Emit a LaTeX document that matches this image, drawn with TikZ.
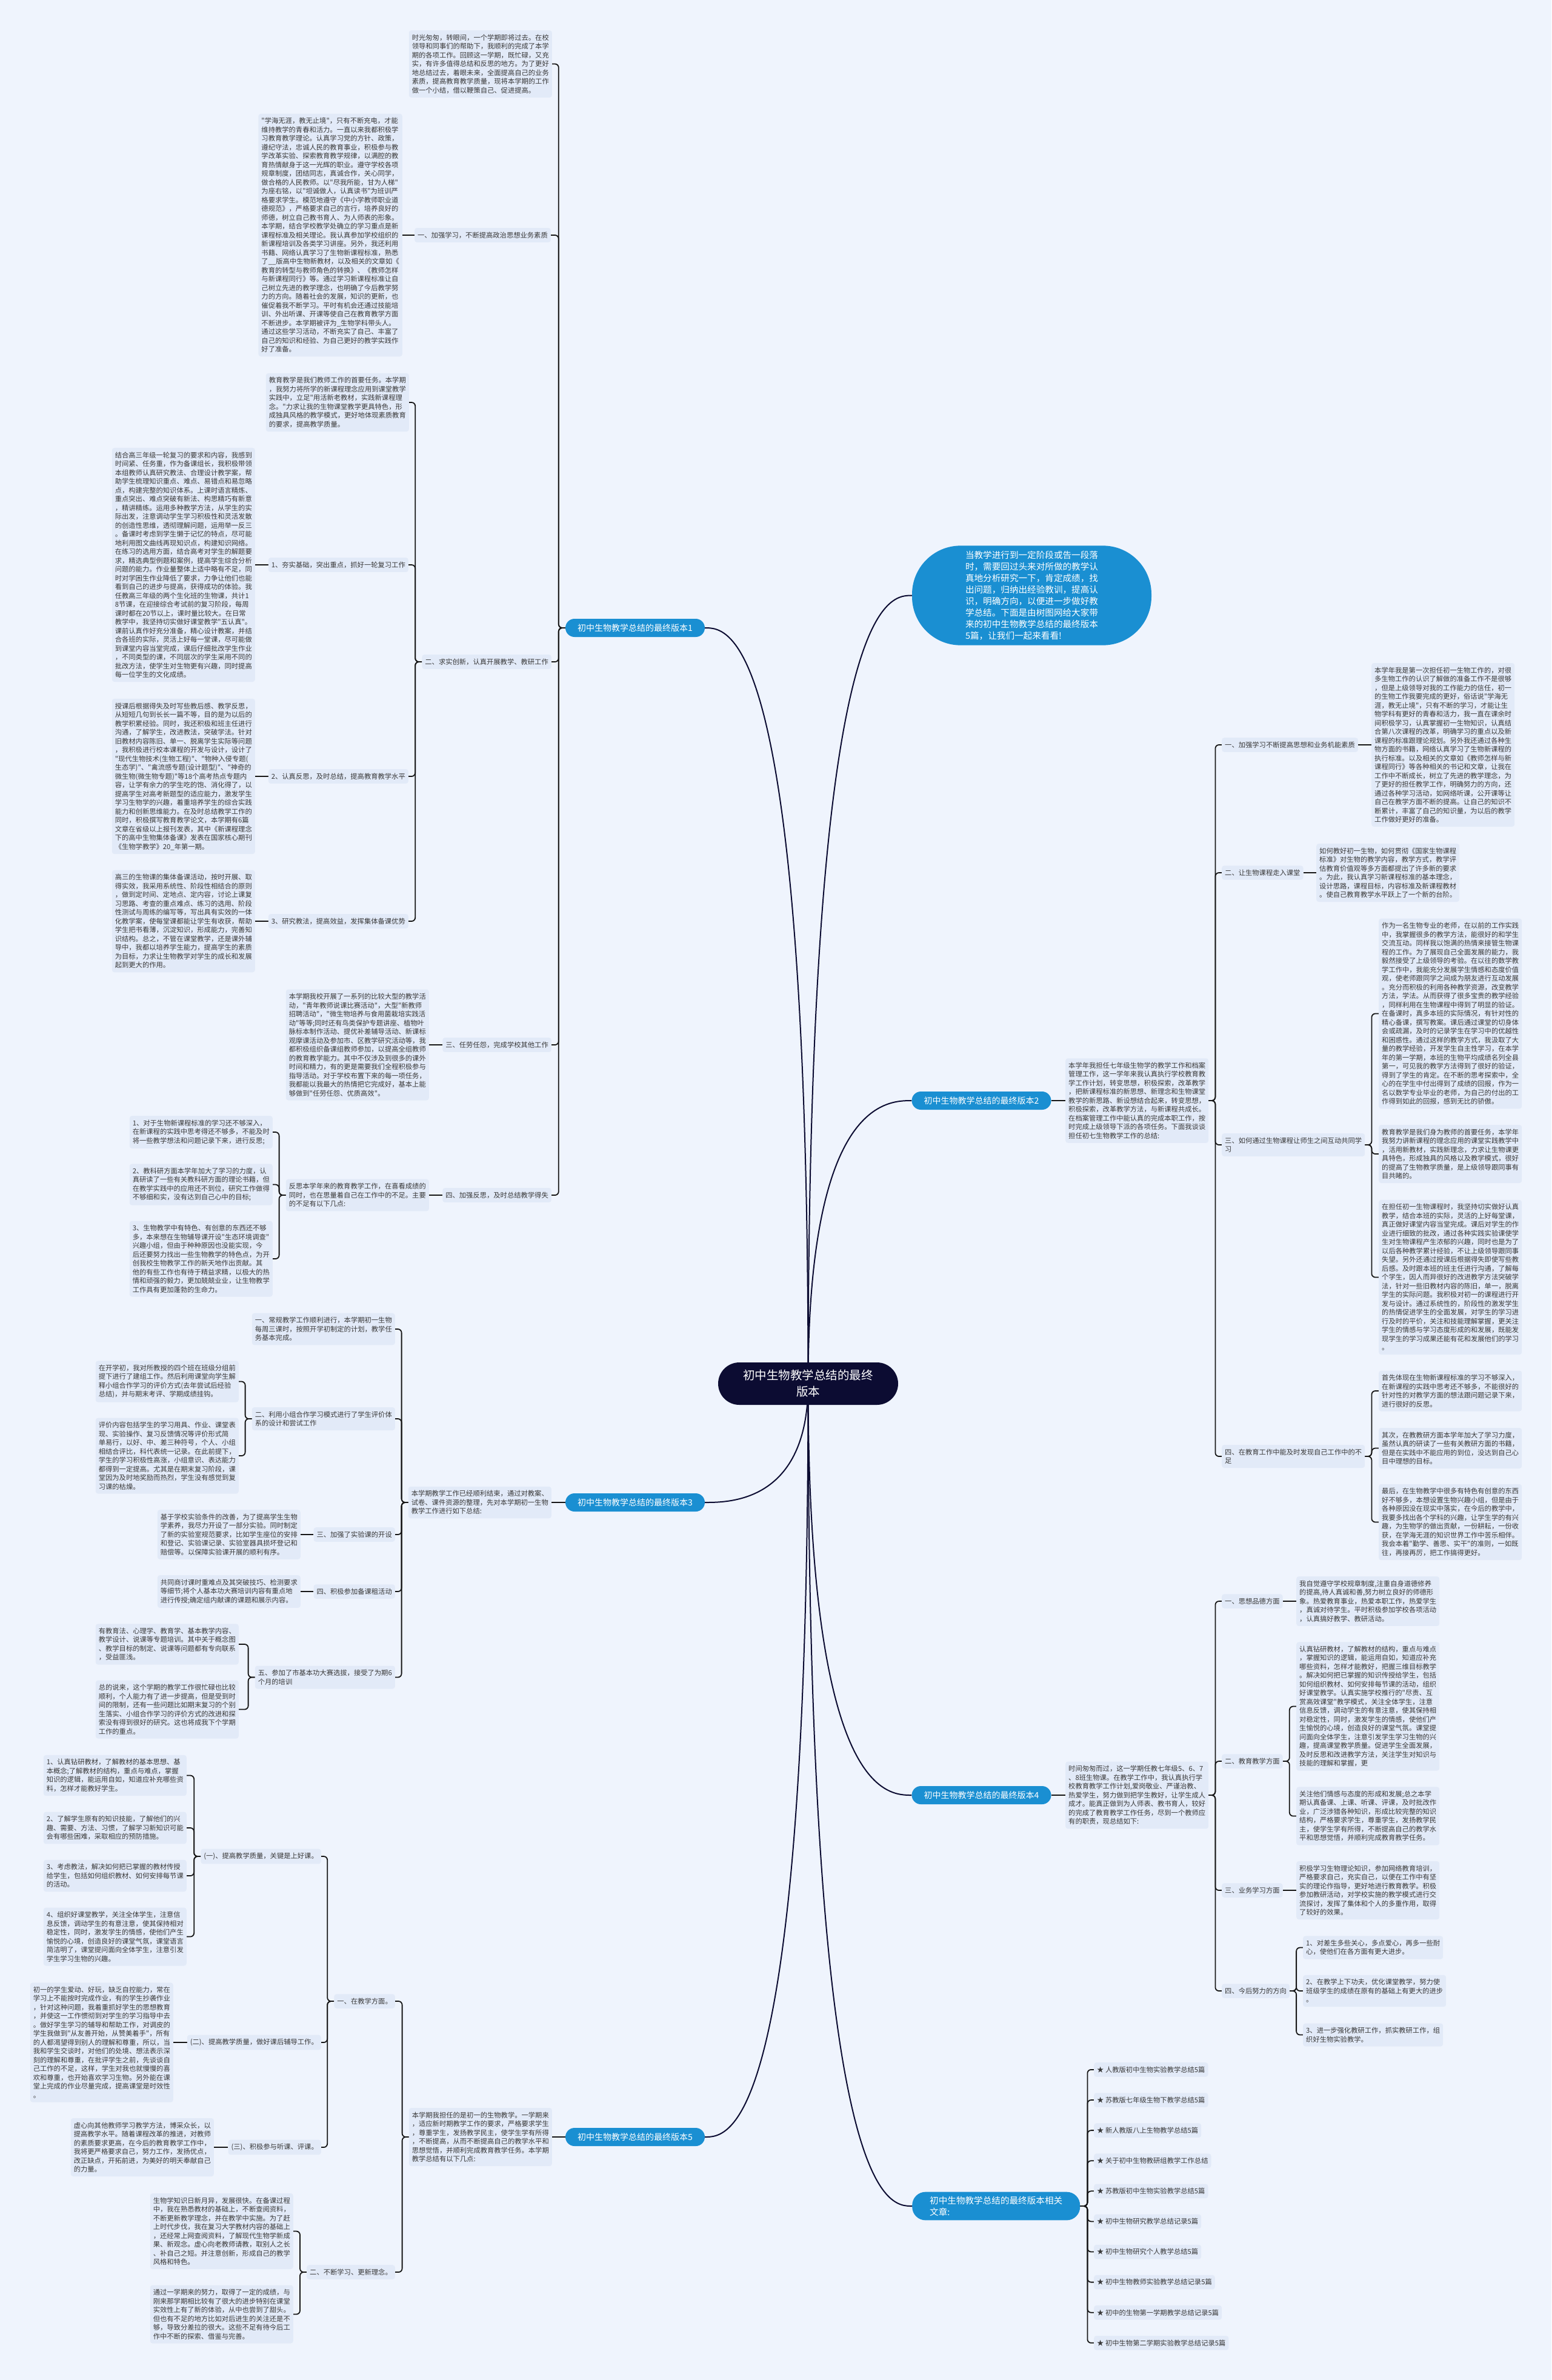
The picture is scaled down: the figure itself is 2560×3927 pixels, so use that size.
\documentclass[tikz,border=0pt]{standalone}
\usepackage{fontspec}
\usepackage{xcolor}
\usetikzlibrary{calc,backgrounds}
\newfontfamily\cjk{Noto Sans CJK SC}
\definecolor{pagebg}{HTML}{EFF4FD}
\definecolor{cardbg}{HTML}{E2EAF8}
\definecolor{cardtxt}{HTML}{383838}
\definecolor{rootbg}{HTML}{0C0C32}
\definecolor{topicbg}{HTML}{1A8FD2}
\definecolor{wirecol}{HTML}{161616}
\newcommand\cardfont{\cjk\fontsize{11.3pt}{14.5pt}\selectfont}
\newcommand\topicfont{\cjk\fontsize{14pt}{17pt}\selectfont}
\newcommand\bubblefont{\cjk\fontsize{14.6pt}{18.9pt}\selectfont}
\newcommand\rootfont{\cjk\fontsize{19.5pt}{27pt}\selectfont}

\begin{document}
\begin{tikzpicture}[x=1pt, y=-1pt,
  card/.style={fill=cardbg, rounded corners=4pt, font=\cardfont, text=cardtxt,
               align=left, inner xsep=5pt, inner ysep=6.5pt},
  lcard/.style={card, anchor=east},
  rcard/.style={card, anchor=west},
  topic/.style={fill=topicbg, text=white, font=\topicfont, rounded corners=15pt,
                minimum width=230pt, minimum height=30pt, inner xsep=12pt},
  bubble/.style={fill=topicbg, text=white, font=\bubblefont, align=left,
                 rounded corners=80pt, inner xsep=88pt, inner ysep=9pt},
  relnode/.style={fill=topicbg, text=white, align=left, anchor=west,
                  font=\cjk\fontsize{14.6pt}{19.2pt}\selectfont,
                  rounded corners=22pt, inner xsep=29pt, inner ysep=7pt},
  rootnode/.style={fill=rootbg, text=white, font=\rootfont, align=center,
                   rounded corners=35pt, minimum width=297pt, minimum height=70pt},
  link/.style={draw=wirecol, line width=1.8pt, rounded corners=6pt},
  trunk/.style={draw=rootbg, line width=2pt},
]
  %% centre
  \node[rootnode] (root) at (1333.5,2283) {初中生物教学总结的最终\\版本};
  \node[bubble] (intro) at (1702.5,982.5) {当教学进行到一定阶段或告一段落\\时，需要回过头来对所做的教学认\\真地分析研究一下，肯定成绩，找\\出问题，归纳出经验教训，提高认\\识，明确方向，以便进一步做好教\\学总结。下面是由树图网给大家带\\来的初中生物教学总结的最终版本\\5篇，让我们一起来看看!};

  %% version 1 (left, top)
  \node[topic] (v1) at (1048,1036) {初中生物教学总结的最终版本1};
  \node[lcard] (v1a) at (911,105.5) {时光匆匆，转眼间，一个学期即将过去。在校\\领导和同事们的帮助下，我顺利的完成了本学\\期的各项工作。回顾这一学期，既忙碌，又充\\实，有许多值得总结和反思的地方。为了更好\\地总结过去，着眼未来，全面提高自己的业务\\素质，提高教育教学质量，现将本学期的工作\\做一个小结，借以鞭策自己、促进提高。};
  \node[lcard] (v1b) at (909,388) {一、加强学习，不断提高政治思想业务素质};
  \node[lcard] (v1bt) at (664,388) {"学海无涯，教无止境"，只有不断充电，才能\\维持教学的青春和活力。一直以来我都积极学\\习教育教学理论。认真学习党的方针、政策，\\遵纪守法，忠诚人民的教育事业，积极参与教\\学改革实验、探索教育教学规律，以满腔的教\\育热情献身于这一光辉的职业。遵守学校各项\\规章制度，团结同志，真诚合作，关心同学，\\做合格的人民教师。以"尽我所能，甘为人梯"\\为座右铭，以"坦诚做人，认真读书"为班训严\\格要求学生。模范地遵守《中小学教师职业道\\德规范》，严格要求自己的言行，培养良好的\\师德，树立自己教书育人、为人师表的形象。\\本学期，结合学校教学处确立的学习重点是新\\课程标准及相关理论。我认真参加学校组织的\\新课程培训及各类学习讲座。另外，我还利用\\书籍、网络认真学习了生物新课程标准，熟悉\\了\_\_版高中生物新教材，以及相关的文章如《\\教育的转型与教师角色的转换》、《教师怎样\\与新课程同行》等。通过学习新课程标准让自\\己树立先进的教学理念，也明确了今后教学努\\力的方向。随着社会的发展，知识的更新，也\\催促着我不断学习。平时有机会还通过技能培\\训、外出听课、开课等使自己在教育教学方面\\不断进步。本学期被评为\_生物学科带头人。\\通过这些学习活动，不断充实了自己、丰富了\\自己的知识和经验、为自己更好的教学实践作\\好了准备。};
  \node[lcard] (v1c) at (910,1092) {二、求实创新，认真开展教学、教研工作};
  \node[lcard] (v1c0) at (675,664) {教育教学是我们教师工作的首要任务。本学期\\，我努力将所学的新课程理念应用到课堂教学\\实践中，立足"用活新老教材，实践新课程理\\念。"力求让我的生物课堂教学更具特色，形\\成独具风格的教学模式，更好地体现素质教育\\的要求，提高教学质量。};
  \node[lcard] (v1c1) at (674,932) {1、夯实基础，突出重点，抓好一轮复习工作};
  \node[lcard] (v1c1t) at (421,932) {结合高三年级一轮复习的要求和内容，我感到\\时间紧、任务重，作为备课组长，我积极带领\\本组教师认真研究教法、合理设计教学案，帮\\助学生梳理知识重点、难点、易错点和易忽略\\点，构建完整的知识体系。上课时语言精炼、\\重点突出、难点突破有新法、构思精巧有新意\\，精讲精练。运用多种教学方法，从学生的实\\际出发，注意调动学生学习积极性和灵活发散\\的创造性思维，透彻理解问题，运用举一反三\\。备课时考虑到学生懒于记忆的特点，尽可能\\地利用图文曲线再现知识点，构建知识网络。\\在练习的选用方面，结合高考对学生的解题要\\求，精选典型例题和案例，提高学生综合分析\\问题的能力。作业量整体上适中略有不足，同\\时对学困生作业降低了要求，力争让他们也能\\看到自己的进步与提高，获得成功的体验。我\\任教高三年级的两个生化班的生物课，共计1\\8节课，在迎接综合考试前的复习阶段，每周\\课时都在20节以上，课时量比较大。在日常\\教学中，我坚持切实做好课堂教学"五认真"。\\课前认真作好充分准备，精心设计教案，并结\\合各班的实际，灵活上好每一堂课，尽可能做\\到课堂内容当堂完成，课后仔细批改学生作业\\，不同类型的课，不同层次的学生采用不同的\\批改方法，使学生对生物更有兴趣，同时提高\\每一位学生的文化成绩。};
  \node[lcard] (v1c2) at (674,1281) {2、认真反思，及时总结，提高教育教学水平};
  \node[lcard] (v1c2t) at (421,1281) {授课后根据得失及时写些教后感、教学反思，\\从短短几句到长长一篇不等，目的是为以后的\\教学积累经验。同时，我还积极和班主任进行\\沟通，了解学生，改进教法，突破学法。针对\\旧教材内容陈旧、单一、脱离学生实际等问题\\，我积极进行校本课程的开发与设计，设计了\\"现代生物技术(生物工程)"、"物种入侵专题(\\生态学)"、"禽流感专题(设计题型)"、"神奇的\\微生物(微生物专题)"等18个高考热点专题内\\容，让学有余力的学生吃的饱、消化得了，以\\提高学生对高考新题型的适应能力，激发学生\\学习生物学的兴趣，着重培养学生的综合实践\\能力和创新思维能力。在及时总结教学工作的\\同时，积极撰写教育教学论文，本学期有6篇\\文章在省级以上报刊发表，其中《新课程理念\\下的高中生物集体备课》发表在国家核心期刊\\《生物学教学》20\_年第一期。};
  \node[lcard] (v1c3) at (674,1520) {3、研究教法，提高效益，发挥集体备课优势};
  \node[lcard] (v1c3t) at (421,1520) {高三的生物课的集体备课活动，按时开展、取\\得实效，我采用系统性、阶段性相结合的原则\\，做到定时间、定地点、定内容，讨论上课复\\习思路、考查的重点难点、练习的选用、阶段\\性测试与周练的编写等，写出具有实效的一体\\化教学案，使每堂课都能让学生有收获，帮助\\学生把书看薄，沉淀知识，形成能力，完善知\\识结构。总之，不管在课堂教学，还是课外辅\\导中，我都以培养学生能力，提高学生的素质\\为目标，力求让生物教学对学生的成长和发展\\起到更大的作用。};
  \node[lcard] (v1d) at (910,1724) {三、任劳任怨，完成学校其他工作};
  \node[lcard] (v1dt) at (708,1724) {本学期我校开展了一系列的比较大型的教学活\\动，"青年教师说课比赛活动"，大型"新教师\\招聘活动"，"微生物培养与食用菌栽培实践活\\动"等等;同时还有鸟类保护专题讲座、植物叶\\脉标本制作活动、提优补差辅导活动、新课标\\观摩课活动及参加市、区教学研究活动等，我\\都积极组织备课组教师参加，以提高全组教师\\的教育教学能力。其中不仅涉及到很多的课外\\时间和精力，有的更是需要我们全程积极参与\\指导活动。对于学校布置下来的每一项任务，\\我都能以我最大的热情把它完成好，基本上能\\够做到"任劳任怨、优质高效"。};
  \node[lcard] (v1e) at (910,1972) {四、加强反思，及时总结教学得失};
  \node[lcard] (v1et) at (708,1972) {反思本学年来的教育教学工作，在喜看成绩的\\同时，也在思量着自己在工作中的不足。主要\\的不足有以下几点:};
  \node[lcard] (v1e1) at (450,1868) {1、对于生物新课程标准的学习还不够深入，\\在新课程的实践中思考得还不够多，不能及时\\将一些教学想法和问题记录下来，进行反思;};
  \node[lcard] (v1e2) at (450,1954.5) {2、教科研方面本学年加大了学习的力度，认\\真研读了一些有关教科研方面的理论书籍，但\\在教学实践中的应用还不到位，研究工作做得\\不够细和实，没有达到自己心中的目标;};
  \node[lcard] (v1e3) at (450,2077) {3、生物教学中有特色、有创意的东西还不够\\多，本来想在生物辅导课开设"生态环境调查"\\兴趣小组，但由于种种原因也没能实现，今\\后还要努力找出一些生物教学的特色点，为开\\创我校生物教学工作的新天地作出贡献。其\\他的有些工作也有待于精益求精，以极大的热\\情和顽强的毅力，更加兢兢业业，让生物教学\\工作具有更加蓬勃的生命力。};

  %% version 3 (left, middle)
  \node[topic] (v3) at (1048,2479) {初中生物教学总结的最终版本3};
  \node[lcard] (v3a) at (910,2479) {本学期教学工作已经顺利结束，通过对教案、\\试卷、课件资源的整理，先对本学期初一生物\\教学工作进行如下总结:};
  \node[lcard] (v3b) at (652,2193) {一、常规教学工作顺利进行，本学期初一生物\\每周三课时，按照开学初制定的计划，教学任\\务基本完成。};
  \node[lcard] (v3c) at (652,2341) {二、利用小组合作学习模式进行了学生评价体\\系的设计和尝试工作};
  \node[lcard] (v3c1) at (394,2279.5) {在开学初，我对所教授的四个班在班级分组前\\提下进行了建组工作。然后利用课堂向学生解\\释小组合作学习的评价方式(去年尝试后经验\\总结)，并与期末考评、学期成绩挂钩。};
  \node[lcard] (v3c2) at (394,2402) {评价内容包括学生的学习用具、作业、课堂表\\现、实验操作、复习反馈情况等评价形式简\\单易行，以好、中、差三种符号，个人、小组\\相结合评比，科代表统一记录。在此前提下，\\学生的学习积极性高涨，小组意识、表达能力\\都得到一定提高。尤其是在期末复习阶段，课\\堂因为及时地奖励而热烈，学生没有感觉到复\\习课的枯燥。};
  \node[lcard] (v3d) at (652,2532) {三、加强了实验课的开设};
  \node[lcard] (v3dt) at (496,2532) {基于学校实验条件的改善，为了提高学生生物\\学素养，我尽力开设了一部分实验。同时制定\\了新的实验室规范要求，比如学生座位的安排\\和登记、实验课记录、实验室器具损坏登记和\\赔偿等。以保障实验课开展的顺利有序。};
  \node[lcard] (v3e) at (652,2626) {四、积极参加备课租活动};
  \node[lcard] (v3et) at (496,2626) {共同商讨课时重难点及其突破技巧、检测要求\\等细节;将个人基本功大赛培训内容有重点地\\进行传授;确定组内献课的课题和展示内容。};
  \node[lcard] (v3f) at (652,2767.5) {五、参加了市基本功大赛选拔，接受了为期6\\个月的培训};
  \node[lcard] (v3f1) at (394,2713) {有教育法、心理学、教育学、基本教学内容、\\教学设计、说课等专题培训。其中关于概念图\\、教学目标的制定、说课等问题都有专向联系\\，受益匪浅。};
  \node[lcard] (v3f2) at (394,2820.5) {总的说来，这个学期的教学工作很忙碌也比较\\顺利，个人能力有了进一步提高，但是受到时\\间的限制，还有一些问题比如期末复习的个别\\生落实、小组合作学习的评价方式的改进和探\\索没有得到很好的研究。这也将成我下个学期\\工作的重点。};

  %% version 5 (left, bottom)
  \node[topic] (v5) at (1048,3526) {初中生物教学总结的最终版本5};
  \node[lcard] (v5a) at (911,3526) {本学期我担任的是初一的生物教学。一学期来\\，适应新时期教学工作的要求，严格要求学生\\，尊重学生，发扬教学民主，使学生学有所得\\，不断提高，从而不断提高自己的教学水平和\\思想觉悟，并顺利完成教育教学任务。本学期\\教学总结有以下几点:};
  \node[lcard] (v5b) at (652,3302) {一、在教学方面。};
  \node[lcard] (v5b1) at (530,3063) {(一)、提高教学质量，关键是上好课。};
  \node[lcard] (v5b1a) at (308,2929.5) {1、认真钻研教材，了解教材的基本思想、基\\本概念;了解教材的结构，重点与难点，掌握\\知识的逻辑，能运用自如，知道应补充哪些资\\料，怎样才能教好学生。};
  \node[lcard] (v5b1b) at (308,3016) {2、了解学生原有的知识技能，了解他们的兴\\趣、需要、方法、习惯，了解学习新知识可能\\会有哪些困难，采取相应的预防措施。};
  \node[lcard] (v5b1c) at (308,3095) {3、考虑教法，解决如何把已掌握的教材传授\\给学生，包括如何组织教材、如何安排每节课\\的活动。};
  \node[lcard] (v5b1d) at (308,3195.5) {4、组织好课堂教学，关注全体学生，注意信\\息反馈，调动学生的有意注意，使其保持相对\\稳定性，同时，激发学生的情感，使他们产生\\愉悦的心境，创造良好的课堂气氛，课堂语言\\简洁明了，课堂提问面向全体学生，注意引发\\学生学习生物的兴趣。};
  \node[lcard] (v5b2) at (530,3370) {(二)、提高教学质量，做好课后辅导工作。};
  \node[lcard] (v5b2t) at (286,3370) {初一的学生爱动、好玩，缺乏自控能力，常在\\学习上不能按时完成作业，有的学生抄袭作业\\，针对这种问题，我着重抓好学生的思想教育\\，并使这一工作惯彻到对学生的学习指导中去\\。做好学生学习的辅导和帮助工作，对调皮的\\学生我做到"从友善开始，从赞美着手"，所有\\的人都渴望得到别人的理解和尊重，所以，当\\我和学生交谈时，对他们的处境、想法表示深\\刻的理解和尊重，在批评学生之前，先谈谈自\\己工作的不足，这样，学生对我也就慢慢的喜\\欢和尊重，也开始喜欢学习生物。另外能在课\\堂上完成的作业尽量完成，提高课堂是时效性\\。};
  \node[lcard] (v5b3) at (530,3543) {(三)、积极参与听课、评课。};
  \node[lcard] (v5b3t) at (353,3543) {虚心向其他教师学习教学方法，博采众长，以\\提高教学水平。随着课程改革的推进，对教师\\的素质要求更高，在今后的教育教学工作中，\\我将更严格要求自己，努力工作，发扬优点，\\改正缺点，开拓前进，为美好的明天奉献自己\\的力量。};
  \node[lcard] (v5c) at (652,3749) {二、不断学习、更新理念。};
  \node[lcard] (v5c1) at (484,3681.5) {生物学知识日新月异，发展很快。在备课过程\\中，我在熟悉教材的基础上，不断查阅资料，\\不断更新教学理念，并在教学中实施。为了赶\\上时代步伐，我在复习大学教材内容的基础上\\，还经常上网查阅资料，了解现代生物学新成\\果、新观念。虚心向老教师请教，取别人之长\\、补自己之短。并注意创新，形成自己的教学\\风格和特色。};
  \node[lcard] (v5c2) at (484,3818.5) {通过一学期来的努力，取得了一定的成绩，与\\刚来那学期相比较有了很大的进步特别在课堂\\实效性上有了新的体验，从中也尝到了甜头。\\但也有不足的地方比如对后进生的关注还是不\\够，导致分差拉的很大。这些不足有待今后工\\作中不断的探索、借鉴与完善。};

  %% version 2 (right, top)
  \node[topic] (v2) at (1619.5,1816) {初中生物教学总结的最终版本2};
  \node[rcard] (v2a) at (1758,1816) {本学年我担任七年级生物学的教学工作和档案\\管理工作，这一学年来我认真执行学校教育教\\学工作计划，转变思想，积极探索，改革教学\\，把新课程标准的新思想、新理念和生物课堂\\教学的新思路、新设想结合起来，转变思想，\\积极探索，改革教学方法，与新课程共成长。\\在档案管理工作中能认真的完成本职工作，按\\时完成上级领导下派的各项任务。下面我谈谈\\担任初七生物教学工作的总结:};
  \node[rcard] (v2b) at (2016,1229) {一、加强学习不断提高思想和业务机能素质};
  \node[rcard] (v2bt) at (2263,1229) {本学年我是第一次担任初一生物工作的，对很\\多生物工作的认识了解做的准备工作不是很够\\，但是上级领导对我的工作能力的信任，初一\\的生物工作我要完成的更好，俗话说"学海无\\涯，教无止境"，只有不断的学习，才能让生\\物学科有更好的青春和活力，我一直在课余时\\间积极学习，认真掌握初一生物知识，认真结\\合第八次课程的改革，明确学习的重点以及新\\课程的标准跟理论规划。另外我还通过各种生\\物方面的书籍，网络认真学习了生物新课程的\\执行标准。以及相关的文章如《教师怎样与新\\课程同行》等各种相关的书记和文章，让我在\\工作中不断成长，树立了先进的教学理念，为\\了更好的担任教学工作，明确努力的方向，还\\通过各种学习活动，如网络听课，公开课等让\\自己在教学方面不断的提高。让自己的知识不\\断累计，丰富了自己的知识量，为以后的教学\\工作做好更好的准备。};
  \node[rcard] (v2c) at (2016,1440) {二、让生物课程走入课堂};
  \node[rcard] (v2ct) at (2172,1440) {如何教好初一生物，如何贯彻《国家生物课程\\标准》对生物的教学内容，教学方式，教学评\\估教育价值观等多方面都提出了许多新的要求\\。为此，我认真学习新课程标准的基本理念，\\设计思路，课程目标，内容标准及新课程教材\\。使自己教育教学水平跃上了一个新的台阶。};
  \node[rcard] (v2d) at (2016,1889) {三、如何通过生物课程让师生之间互动共同学\\习};
  \node[rcard] (v2d1) at (2275,1672.5) {作为一名生物专业的老师，在以前的工作实践\\中，我掌握很多的教学方法，能很好的和学生\\交流互动。同样我以饱满的热情来接管生物课\\程的工作。为了展现自己全面发展的能力，我\\毅然接受了上级领导的考验。在以往的数学教\\学工作中，我能充分发展学生情感和态度价值\\观，使老师跟同学之间成为朋友进行互动发展\\。充分而积极的利用各种教学资源，改变教学\\方法，学法。从而获得了很多宝贵的教学经验\\，同样利用在生物课程中得到了明显的验证。\\在备课时，真多本班的实际情况，有针对性的\\精心备课，撰写教案。课后通过课堂的切身体\\会或疏漏，及时的记录学生在学习中的优越性\\和困惑性。通过这样的教学方式，我汲取了大\\量的教学经验，开发学生自主性学习，在本学\\年的第一学期，本班的生物平均成绩名列全县\\第一，可见我的教学方法得到了很好的验证，\\得到了学生的肯定。在不断的思考探索中，全\\心的在学生中付出得到了成绩的回报，作为一\\名以数学专业毕业的老师，为自己的付出的工\\作得到如此的回报，感到无比的骄傲。};
  \node[rcard] (v2d2) at (2275,1904) {教育教学是我们身为教师的首要任务，本学年\\我努力讲新课程的理念应用的课堂实践教学中\\，活用新教材，实践新理念，力求让生物课更\\具特色，形成独具的风格以及教学模式，很好\\的提高了生物教学质量，是上级领导跟同事有\\目共睹的。};
  \node[rcard] (v2d3) at (2275,2107.5) {在担任初一生物课程时，我坚持切实做好认真\\教学，结合本班的实际，灵活的上好每堂课，\\真正做好课堂内容当堂完成。课后对学生的作\\业进行细致的批改，通过各种实践实验课使学\\生对生物课程产生浓郁的兴趣，同时也是为了\\以后各种教学累计经验，不让上级领导跟同事\\失望。另外还通过授课后根据得失即使写些教\\后感。及时跟本班的班主任进行沟通，了解每\\个学生，因人而异很好的改进教学方法突破学\\法，针对一些旧教材内容的陈旧，单一，脱离\\学生的实际问题。我积极对初一的课程进行开\\发与设计。通过系统性的，阶段性的激发学生\\的热情促进学生的全面发展，对学生的学习进\\行及时的平价，关注和技能理解掌握，更关注\\学生的情感与学习态度形成的和发展，既能发\\现学生的学习成果还能有花和发展他们的学习\\。};
  \node[rcard] (v2e) at (2016,2403) {四、在教育工作中能及时发现自己工作中的不\\足};
  \node[rcard] (v2e1) at (2275,2295) {首先体现在生物新课程标准的学习不够深入，\\在新课程的实践中思考还不够多，不能很好的\\针对性的对教学方面的想法跟问题记录下来，\\进行很好的反思。};
  \node[rcard] (v2e2) at (2275,2389.5) {其次，在教教研方面本学年加大了学习力度，\\虽然认真的研读了一些有关教研方面的书籍，\\但是在实践中不能应用的到位，没达到自己心\\目中理想的目标。};
  \node[rcard] (v2e3) at (2275,2511.5) {最后，在生物教学中很多有特色有创意的东西\\好不够多，本想设置生物兴趣小组，但是由于\\各种原因没在现实中落实，在今后的教学中，\\我要多找出各个学科的兴趣，让学生学的有兴\\趣，为生物学的做出贡献，一份耕耘，一份收\\获，在学海无涯的知识世界工作中苦乐相伴。\\我会本着"勤学、善思、实干"的准则，一如既\\往，再接再厉，把工作搞得更好。};

  %% version 4 (right, middle)
  \node[topic] (v4) at (1619.5,2962) {初中生物教学总结的最终版本4};
  \node[rcard] (v4a) at (1758,2962) {时间匆匆而过，这一学期任教七年级5、6、7\\、8班生物课。在教学工作中，我认真执行学\\校教育教学工作计划,爱岗敬业、严谨治教、\\热爱学生，努力做到把学生教好，让学生成人\\成才。能真正做到为人师表、教书育人，较好\\的完成了教育教学工作任务，尽到一个教师应\\有的职责，现总结如下:};
  \node[rcard] (v4b) at (2016,2642) {一、思想品德方面};
  \node[rcard] (v4bt) at (2139,2642) {我自觉遵守学校规章制度,注重自身道德修养\\的提高,待人真诚和善,努力树立良好的师德形\\象。热爱教育事业，热爱本职工作，热爱学生\\，真诚对待学生。平时积极参加学校各项活动\\，认真搞好教学、教研活动。};
  \node[rcard] (v4c) at (2016,2906) {二、教育教学方面};
  \node[rcard] (v4c1) at (2139,2815.5) {认真钻研教材，了解教材的结构，重点与难点\\，掌握知识的逻辑，能运用自如，知道应补充\\哪些资料，怎样才能教好，把握三维目标教学\\。解决如何把已掌握的知识传授给学生，包括\\如何组织教材、如何安排每节课的活动，组织\\好课堂教学。认真实施学校推行的"尽责、互\\赏高效课堂"教学模式，关注全体学生，注意\\信息反馈，调动学生的有意注意，使其保持相\\对稳定性，同时，激发学生的情感，使他们产\\生愉悦的心境，创造良好的课堂气氛。课堂提\\问面向全体学生，注意引发学生学习生物的兴\\趣，提高课堂教学质量。促进学生全面发展，\\及时反思和改进教学方法，关注学生对知识与\\技能的理解和掌握，更};
  \node[rcard] (v4c2) at (2139,2996.5) {关注他们情感与态度的形成和发展;总之本学\\期认真备课、上课、听课、评课，及时批改作\\业，广泛涉猎各种知识，形成比较完整的知识\\结构，严格要求学生，尊重学生，发扬教学民\\主，使学生学有所得，不断提高自己的教学水\\平和思想觉悟，并顺利完成教育教学任务。};
  \node[rcard] (v4d) at (2016,3119) {三、业务学习方面};
  \node[rcard] (v4dt) at (2139,3119) {积极学习生物理论知识，参加网络教育培训，\\严格要求自己，充实自己，以便在工作中有坚\\实的理论作指导，更好地进行教育教学。积极\\参加教研活动，对学校实施的教学模式进行交\\流探讨，发挥了集体和个人的多重作用，取得\\了较好的效果。};
  \node[rcard] (v4e) at (2016,3285) {四、今后努力的方向};
  \node[rcard] (v4e1) at (2150,3213.5) {1、对差生多些关心，多点爱心，再多一些耐\\心，使他们在各方面有更大进步。};
  \node[rcard] (v4e2) at (2150,3285) {2、在教学上下功夫，优化课堂教学，努力使\\班级学生的成绩在原有的基础上有更大的进步\\。};
  \node[rcard] (v4e3) at (2150,3357.5) {3、进一步强化教研工作，抓实教研工作，组\\织好生物实验教学。};

  %% related articles
  \node[relnode] (rel) at (1505,3640) {初中生物教学总结的最终版本相关\\文章:};
  \foreach \t [count=\i] in {人教版初中生物实验教学总结5篇, 苏教版七年级生物下教学总结5篇,
      新人教版八上生物教学总结5篇, 关于初中生物教研组教学工作总结, 苏教版初中生物实验教学总结5篇,
      初中生物研究教学总结记录5篇, 初中生物研究个人教学总结5篇, 初中生物教师实验教学总结记录5篇,
      初中的生物第一学期教学总结记录5篇, 初中生物第二学期实验教学总结记录5篇}
    \node[rcard] (rel\i) at (1805,{3364.8+50.1*\i}) {★ \t};

  %% connectors
  \begin{scope}[on background layer]
    \fill[pagebg] (0,0) rectangle (2560,3927);
    \foreach \b in {v1,v3,v5}
      \draw[trunk] (root.center) .. controls (root.center |- \b.east) and ($(\b.east)+(40,0)$) .. (\b.east);
    \foreach \b in {intro,v2,v4,rel}
      \draw[trunk] (root.center) .. controls (root.center |- \b.west) and ($(\b.west)+(-40,0)$) .. (\b.west);
    % left side
    \foreach \c in {v1a,v1b,v1c,v1d,v1e}
      \draw[link] (v1.west) -- ++(-11,0) |- (\c.east);
    \foreach \c in {v1c0,v1c1,v1c2,v1c3}
      \draw[link] (v1c.west) -- ++(-11,0) |- (\c.east);
    \foreach \c in {v1e1,v1e2,v1e3}
      \draw[link] (v1et.west) -- ++(-11,0) |- (\c.east);
    \foreach \p/\c in {v1b/v1bt,v1c1/v1c1t,v1c2/v1c2t,v1c3/v1c3t,v1d/v1dt,v1e/v1et,
                       v3/v3a,v3d/v3dt,v3e/v3et,v5/v5a,v5b2/v5b2t,v5b3/v5b3t}
      \draw[link] (\p.west) -- (\c.east);
    \foreach \c in {v3b,v3c,v3d,v3e,v3f}
      \draw[link] (v3a.west) -- ++(-11,0) |- (\c.east);
    \foreach \c in {v3c1,v3c2}
      \draw[link] (v3c.west) -- ++(-11,0) |- (\c.east);
    \foreach \c in {v3f1,v3f2}
      \draw[link] (v3f.west) -- ++(-11,0) |- (\c.east);
    \foreach \c in {v5b,v5c}
      \draw[link] (v5a.west) -- ++(-11,0) |- (\c.east);
    \foreach \c in {v5b1,v5b2,v5b3}
      \draw[link] (v5b.west) -- ++(-11,0) |- (\c.east);
    \foreach \c in {v5b1a,v5b1b,v5b1c,v5b1d}
      \draw[link] (v5b1.west) -- ++(-11,0) |- (\c.east);
    \foreach \c in {v5c1,v5c2}
      \draw[link] (v5c.west) -- ++(-11,0) |- (\c.east);
    % right side
    \foreach \p/\c in {v2/v2a,v2b/v2bt,v2c/v2ct,v4/v4a,v4b/v4bt,v4d/v4dt}
      \draw[link] (\p.east) -- (\c.west);
    \foreach \c in {v2b,v2c,v2d,v2e}
      \draw[link] (v2a.east) -- ++(11,0) |- (\c.west);
    \foreach \c in {v2d1,v2d2,v2d3}
      \draw[link] (v2d.east) -- ++(11,0) |- (\c.west);
    \foreach \c in {v2e1,v2e2,v2e3}
      \draw[link] (v2e.east) -- ++(11,0) |- (\c.west);
    \foreach \c in {v4b,v4c,v4d,v4e}
      \draw[link] (v4a.east) -- ++(11,0) |- (\c.west);
    \foreach \c in {v4c1,v4c2}
      \draw[link] (v4c.east) -- ++(11,0) |- (\c.west);
    \foreach \c in {v4e1,v4e2,v4e3}
      \draw[link] (v4e.east) -- ++(11,0) |- (\c.west);
    \foreach \i in {1,...,10}
      \draw[link] (rel.east) -- ++(12,0) |- (rel\i.west);
  \end{scope}
\end{tikzpicture}
\end{document}
